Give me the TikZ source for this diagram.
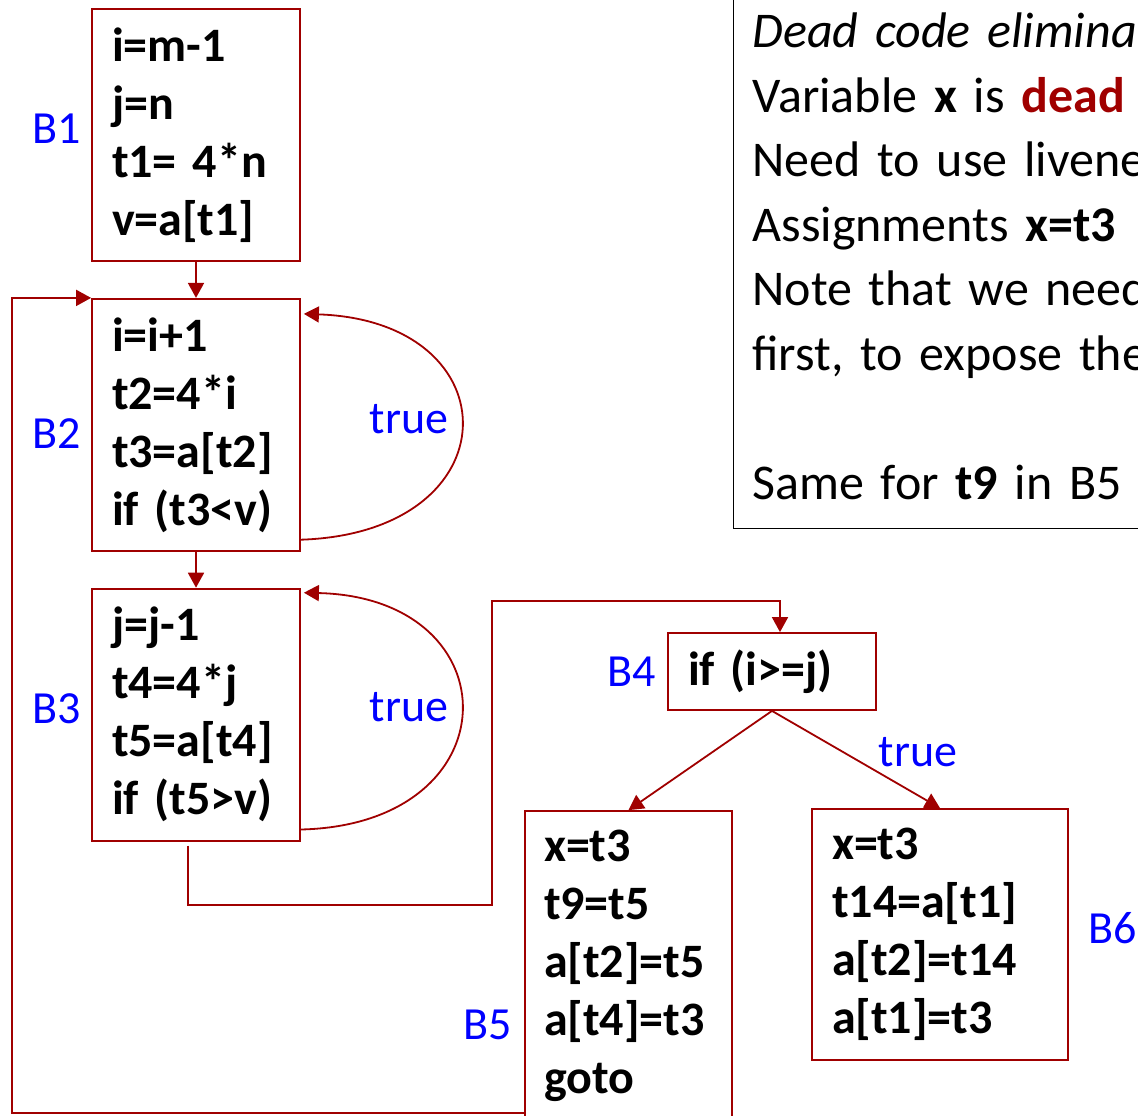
\documentclass[tikz,border=0pt]{standalone}
\usepackage{fontspec}
\setmainfont{Carlito}
\usepackage{xcolor}
\usepackage{tikz}
\usetikzlibrary{positioning,arrows.meta,calc}
\definecolor{cfgred}{RGB}{160,0,0}
\definecolor{lblblue}{RGB}{0,0,255}
\newcommand\cfgcode{\fontsize{48}{58}\selectfont\bfseries}
\newcommand\cfgnote{\fontsize{50}{64.5}\selectfont}

\begin{document}
\begin{tikzpicture}[x=1pt, y=-1pt,
        blk/.style={draw=cfgred, line width=1.8pt, inner xsep=20pt, inner ysep=0pt,
                    align=left, text width=168pt, font=\cfgcode},
        lbl/.style={inner sep=0pt, text=lblblue, font=\fontsize{46}{56}\selectfont},
        arr/.style={-{Triangle[length=15pt,width=16pt]}, line width=1.8pt, cfgred}
      ]
        \useasboundingbox (0,0) rectangle (1138,1116);
        % basic blocks
        \node[blk, minimum height=252pt] (b1) at (196,135)
              {i=m-1\\ j=n\\ t1= 4*n\\ v=a[t1]};
        \node[blk, minimum height=252pt, below=36pt of b1] (b2)
              {i=i+1\\ t2=4*i\\ t3=a[t2]\\ if (t3<v)};
        \node[blk, minimum height=252pt, below=36pt of b2] (b3)
              {j=j-1\\ t4=4*j\\ t5=a[t4]\\ if (t5>v)};
        \node[blk, minimum height=77pt] (b4) at (772,671.5) {if (i>=j)};
        \node[blk, text width=169pt, inner xsep=19pt, minimum height=310pt] (b5) at (628.5,966)
              {x=t3\\ t9=t5\\ a[t2]=t5\\ a[t4]=t3\\ goto};
        \node[blk, text width=216pt, minimum height=251pt] (b6) at (940,934.5)
              {x=t3\\ t14=a[t1]\\ a[t2]=t14\\ a[t1]=t3};
        % block names
        \node[lbl, left=10pt of b1, yshift=6pt] (n1) {B1};
        \node[lbl, left=10pt of b2, yshift=-9pt] (n2) {B2};
        \node[lbl, left=10pt of b3, yshift=6pt] (n3) {B3};
        \node[lbl, left=11pt of b4] (n4) {B4};
        \node[lbl] (n5) at (488,1025) {B5};
        \node[lbl, right=19pt of b6, yshift=6pt] (n6) {B6};
        % note
        \node[draw=black, line width=1pt, anchor=south west, inner xsep=19pt, inner ysep=29pt,
              text width=560pt, align=left, font=\cfgnote] (note) at (733,529)
              {\textit{Dead code elimination}\\
               Variable \textbf{x} is \textcolor{cfgred}{\textbf{dead}}\\
               Need to use liveness\\
               Assignments \textbf{x=t3}\\
               Note that we need\\
               first, to expose the\\[64.5pt]
               Same for \textbf{t9} in B5};
        % edges
        \draw[arr] (b1) -- (b2);
        \draw[arr] (b2) -- (b3);
        \draw[arr] ([yshift=12pt]b2.south east) .. controls +(213,-7) and +(210,7)
              .. node[lbl, left=12pt, yshift=8pt] (t1) {true} ([xshift=3pt,yshift=-16pt]b2.north east);
        \draw[arr] ([yshift=12pt]b3.south east) .. controls +(213,-5) and +(210,5)
              .. node[lbl, left=12pt, yshift=4pt] (t2) {true} ([xshift=3pt,yshift=-5pt]b3.north east);
        \draw[arr] ([xshift=-8pt,yshift=-4pt]b3.south) |- (492,905) -- (492,601)
              -| ([xshift=8pt]b4.north);
        \draw[arr] (b4.south) -- (b5.north);
        \draw[arr] (b4.south) -- node[lbl, pos=0.5, anchor=west, xshift=22pt, yshift=7pt] (t3) {true}
              (b6.north);
        \draw[arr] ([yshift=9pt]b5.south west) -- ++(-512,0) |- (b2.north west);
      \end{tikzpicture}
\end{document}
